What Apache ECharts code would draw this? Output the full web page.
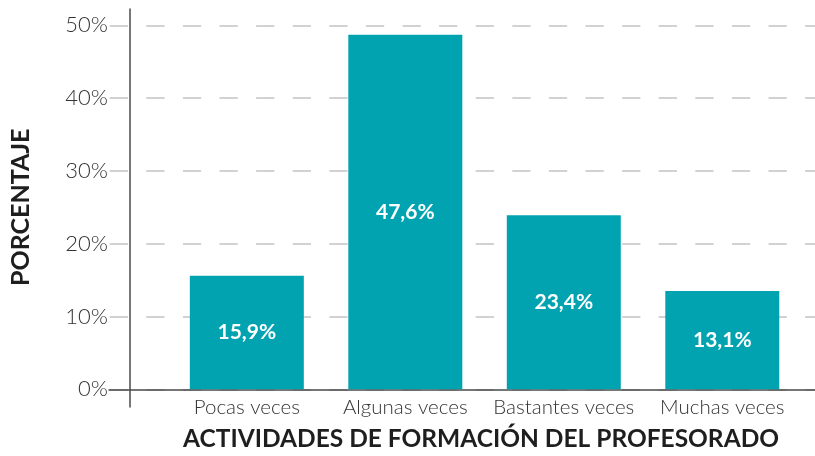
<!DOCTYPE html>
<html>
<head>
<meta charset="utf-8">
<script src="https://cdn.jsdelivr.net/npm/echarts@6/dist/echarts.min.js"></script>
<style>
  html, body { margin: 0; padding: 0; background: #fff; }
  #chart { width: 815px; height: 456px; }
</style>
</head>
<body>
<div id="chart"></div>
<script>
  // datos
  var categorias = ['Pocas veces', 'Algunas veces', 'Bastantes veces', 'Muchas veces'];
  // altura de las barras tal como se dibujan
  var valores = [15.6, 48.7, 23.9, 13.5];
  // rótulos impresos dentro de cada barra
  var rotulos = ['15,9%', '47,6%', '23,4%', '13,1%'];
  var ticksY = [0, 10, 20, 30, 40, 50];

  var mychart = echarts.init(document.getElementById('chart'));

  var option = {
    animation: false,
    textStyle: { fontFamily: 'Lato' },
    title: {
      text: 'ACTIVIDADES DE FORMACIÓN DEL PROFESORADO',
      left: 183,
      top: 427,
      padding: 0,
      textStyle: { fontFamily: 'Lato', fontWeight: 'bold', fontSize: 24.5, color: '#1e1e1e' }
    },
    grid: [
      { left: 108, right: 0, top: 25.3, bottom: 66.7 },
      { left: 130, right: 0, top: 9, bottom: 49 }
    ],
    xAxis: [
      {
        type: 'value',
        gridIndex: 0,
        min: -0.8696,
        max: 3.585,
        axisLine: { show: true, lineStyle: { color: '#4a4a4a', width: 1.5 } },
        axisTick: { show: false },
        splitLine: { show: false },
        axisLabel: {
          customValues: [0, 1, 2, 3],
          formatter: function (v) { return categorias[Math.round(v)]; },
          fontFamily: 'Lato',
          fontWeight: 300,
          fontSize: 20.5,
          color: '#333333',
          margin: 8
        }
      },
      { type: 'value', gridIndex: 1, show: false }
    ],
    yAxis: [
      {
        type: 'value',
        gridIndex: 0,
        min: ticksY[0],
        max: ticksY[ticksY.length - 1],
        interval: 10,
        name: 'PORCENTAJE',
        nameLocation: 'middle',
        nameRotate: 90,
        nameGap: 76,
        nameTextStyle: { fontFamily: 'Lato', fontWeight: 'bold', fontSize: 25, color: '#1e1e1e' },
        axisLine: { show: false },
        axisTick: { show: false },
        axisLabel: {
          formatter: '{value}%',
          fontFamily: 'Lato',
          fontWeight: 300,
          fontSize: 22,
          color: '#333333',
          margin: 1
        },
        splitLine: {
          show: true,
          lineStyle: { color: '#c4c4c4', width: 1.5, type: [18.3, 18.3], dashOffset: -0.7 }
        }
      },
      {
        type: 'value',
        gridIndex: 1,
        axisLine: { show: true, lineStyle: { color: '#4a4a4a', width: 1.5 } },
        axisTick: { show: false },
        axisLabel: { show: false },
        splitLine: { show: false }
      }
    ],
    series: [
      {
        type: 'bar',
        xAxisIndex: 0,
        yAxisIndex: 0,
        barWidth: 114,
        data: valores.map(function (v, i) { return [i, v]; }),
        itemStyle: { color: '#02a3b1' },
        label: {
          show: true,
          position: 'inside',
          formatter: function (p) { return rotulos[p.dataIndex]; },
          fontFamily: 'Lato',
          fontWeight: 'bold',
          fontSize: 21,
          color: '#ffffff'
        }
      }
    ]
  };

  mychart.setOption(option);
</script>
</body>
</html>
